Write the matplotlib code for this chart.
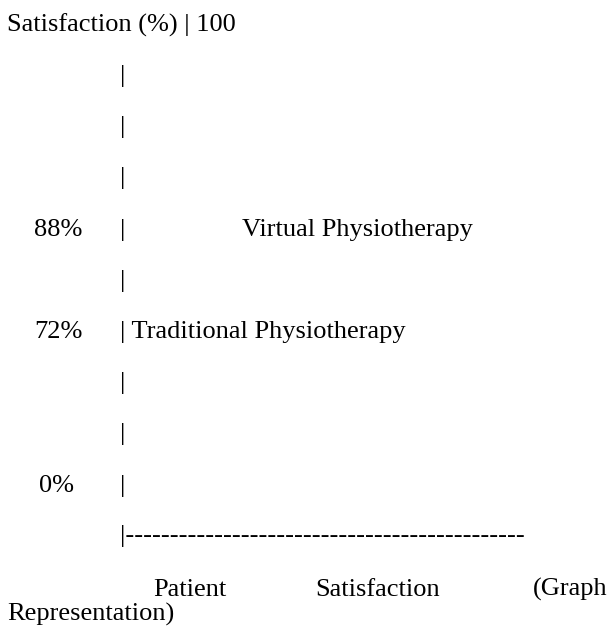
import matplotlib.pyplot as plt

# 텍스트로 그린 만족도 "그래프" 재현
title_text = 'Satisfaction (%) | 100'
pct_labels = ['88%', '72%', '0%']
series_names = ['Virtual Physiotherapy', 'Traditional Physiotherapy']
series_values = [88, 72]
caption_words = ['Patient', 'Satisfaction', '(Graph', 'Representation)']
axis_dashes = 45

plt.rcParams['font.family'] = ['Liberation Serif', 'DejaVu Serif']

fig = plt.figure(figsize=(6.1, 6.34), dpi=100)
ax = fig.add_axes([0, 0, 1, 1])
ax.set_xlim(0, 610)
ax.set_ylim(634, 0)
ax.axis('off')

fs = 19
kw = dict(fontsize=fs, color='black', va='baseline', ha='left')
pipe_x = 120.5

# 첫 줄
ax.text(7, 32, title_text, **kw)

# 세로 축 (파이프 문자만 있는 줄)
for y in [82, 133, 184, 287, 389, 440]:
    ax.text(pipe_x, y, '|', **kw)

# 값 행: 88%, 72%
ax.text(34, 236, pct_labels[0], **kw)
ax.text(pipe_x, 236, '|', **kw)
ax.text(241.5, 236, series_names[0], **kw)

ax.text(34, 338, pct_labels[1], **kw)
ax.text(pipe_x, 338, '| ' + series_names[1], **kw)

# 0% 행
ax.text(39, 492, pct_labels[2], **kw)
ax.text(pipe_x, 492, '|', **kw)

# 가로 축
ax.text(pipe_x, 542, '|' + '-' * axis_dashes, **kw)

# 캡션 (양쪽 정렬처럼 배치)
ax.text(153, 596, caption_words[0], **kw)
ax.text(315, 596, caption_words[1], **kw)
ax.text(533, 596, caption_words[2], **kw)
ax.text(7, 621, caption_words[3], **kw)

fig.savefig('out.png', dpi=100)
